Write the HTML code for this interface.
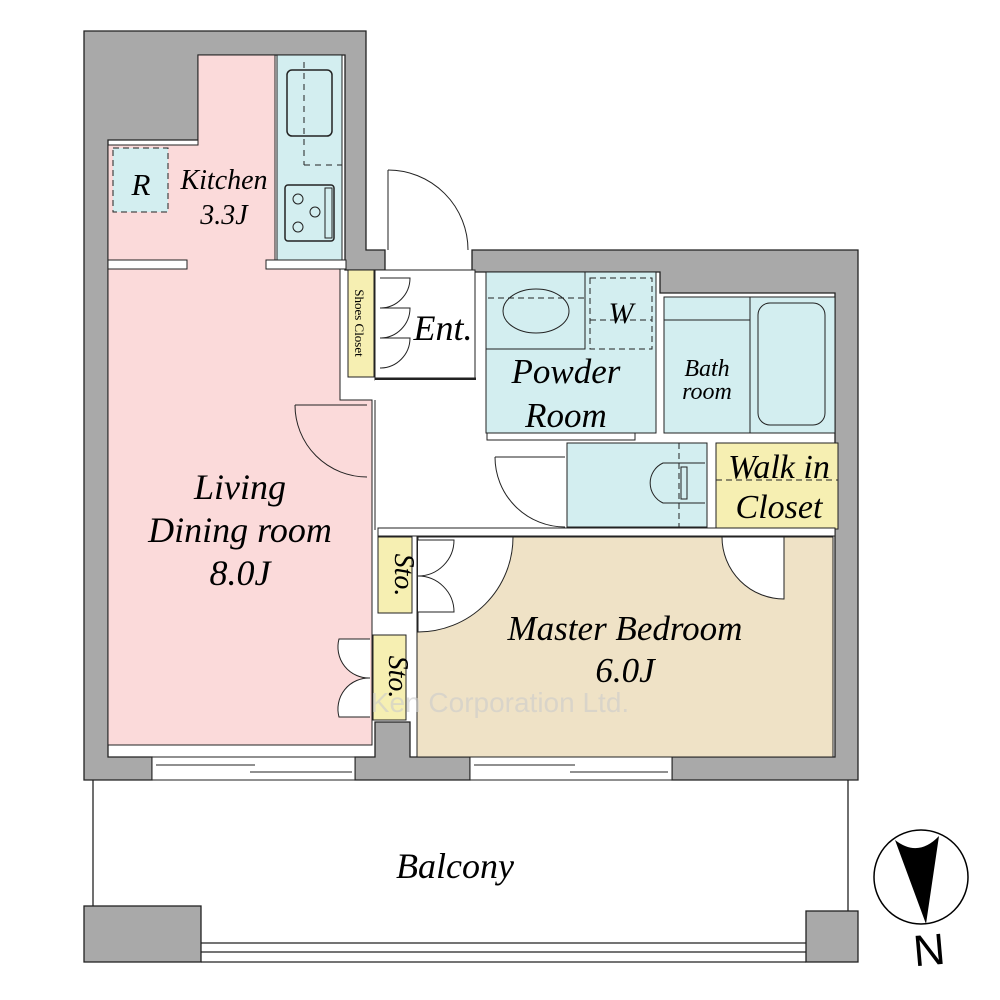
<!DOCTYPE html>
<html><head><meta charset="utf-8"><style>
html,body{margin:0;padding:0;background:#fff;}
svg{display:block;}
text{font-family:"Liberation Serif",serif;font-style:italic;fill:#000;}
</style></head><body>
<svg width="1000" height="1000" viewBox="0 0 1000 1000" xmlns="http://www.w3.org/2000/svg">
<g stroke="#222" stroke-width="1.3">
<path d="M84 31 H366 V250 H385 V270 H345 V55 H198 V140 H108 V757 H152 V780 H84 Z" fill="#a9a9a9"/>
<path d="M472 250 H858 V780 H672 V757 H835 V293 H660 V272 H472 Z" fill="#a9a9a9"/>
<path d="M355 757 H375 V722 H410 V757 H470 V780 H355 Z" fill="#a9a9a9"/>
</g>
<path d="M198 55 H275 V260 H340 V400 H372 V745 H108 V145 H198 Z" fill="#fbdada" stroke="#222" stroke-width="1"/>
<rect x="277" y="55" width="65" height="205" fill="#d3eef0" stroke="#222" stroke-width="1"/>
<rect x="108" y="260" width="79" height="9" fill="#fff" stroke="#222" stroke-width="1"/>
<rect x="266" y="260" width="80" height="9" fill="#fff" stroke="#222" stroke-width="1"/>
<rect x="113" y="148" width="55" height="64" fill="#d3eef0" stroke="#222" stroke-dasharray="6,4"/>
<rect x="287" y="70" width="45" height="66" rx="5" fill="none" stroke="#222" stroke-width="1.5"/>
<line x1="304" y1="62" x2="304" y2="165" stroke="#222" stroke-dasharray="6,5"/>
<line x1="304" y1="165" x2="342" y2="165" stroke="#222" stroke-dasharray="6,5"/>
<rect x="285" y="185" width="49" height="56" rx="3" fill="none" stroke="#222" stroke-width="1.5"/>
<circle cx="298" cy="199" r="5" fill="none" stroke="#222"/><circle cx="315" cy="212" r="5" fill="none" stroke="#222"/><circle cx="298" cy="227" r="5" fill="none" stroke="#222"/>
<rect x="325" y="188" width="7" height="50" fill="none" stroke="#222"/>
<rect x="348" y="270" width="26" height="107" fill="#f6efb2" stroke="#222"/>
<rect x="375" y="270" width="100" height="110" fill="#fff" stroke="#222"/>
<line x1="375" y1="380" x2="476" y2="380" stroke="#222" stroke-width="5"/>
<path d="M388 170 A80 80 0 0 1 468 250" fill="none" stroke="#222"/>
<line x1="388" y1="170" x2="388" y2="250" stroke="#222"/>
<path d="M380 278 h30 a30 30 0 0 1 -30 30 M380 308 h30 a30 30 0 0 1 -30 30 M380 338 h30 a30 30 0 0 1 -30 30" fill="none" stroke="#222"/>
<rect x="375" y="380" width="190" height="148" fill="#fff" stroke="none"/>
<line x1="375" y1="400" x2="375" y2="530" stroke="#222"/>
<path d="M295 405 A72 72 0 0 0 367 477" fill="none" stroke="#222"/>
<line x1="295" y1="405" x2="367" y2="405" stroke="#222"/>
<rect x="486" y="272" width="170" height="161" fill="#d3eef0" stroke="#222"/>
<rect x="486" y="272" width="99" height="77" fill="#d3eef0" stroke="#222"/>
<ellipse cx="536" cy="311" rx="33" ry="22" fill="none" stroke="#222"/>
<line x1="488" y1="298" x2="585" y2="298" stroke="#222" stroke-dasharray="6,4"/>
<rect x="590" y="278" width="62" height="71" fill="none" stroke="#222" stroke-dasharray="6,4"/>
<line x1="590" y1="320" x2="652" y2="320" stroke="#222" stroke-dasharray="6,4"/>
<rect x="487" y="433" width="148" height="7" fill="#fff" stroke="#222"/>
<rect x="664" y="297" width="171" height="136" fill="#d3eef0" stroke="#222"/>
<line x1="750" y1="297" x2="750" y2="433" stroke="#222"/>
<line x1="664" y1="320" x2="750" y2="320" stroke="#222"/>
<rect x="758" y="303" width="67" height="122" rx="12" fill="none" stroke="#222"/>
<rect x="567" y="443" width="140" height="84" fill="#d3eef0" stroke="#222"/>
<line x1="679" y1="443" x2="679" y2="527" stroke="#222" stroke-dasharray="6,4"/>
<path d="M705 463 H663 A22 22 0 0 0 663 503 H705" fill="none" stroke="#222"/>
<rect x="681" y="467" width="6" height="32" fill="none" stroke="#222"/>
<path d="M495 457 A70 70 0 0 0 565 527" fill="none" stroke="#222"/>
<line x1="495" y1="457" x2="565" y2="457" stroke="#222"/>
<rect x="716" y="443" width="122" height="86" fill="#f6efb2" stroke="#222"/>
<line x1="716" y1="480" x2="838" y2="480" stroke="#222" stroke-dasharray="6,4"/>
<rect x="417" y="537" width="416" height="220" fill="#efe2c6" stroke="#222"/>
<rect x="378" y="528" width="457" height="8" fill="#fff" stroke="#222"/>
<path d="M513 537 A95 95 0 0 1 418 632 V537 Z" fill="#fff" stroke="#222"/>
<path d="M418 540 h36 a36 36 0 0 1 -36 36 M418 576 a36 36 0 0 1 36 36 h-36" fill="#fff" stroke="#222"/>
<path d="M722 537 A62 62 0 0 0 784 599 V537 Z" fill="#fff" stroke="#222"/>
<rect x="378" y="537" width="34" height="76" fill="#f6efb2" stroke="#222"/>
<rect x="373" y="635" width="33" height="85" fill="#f6efb2" stroke="#222"/>
<path d="M370 639 h-31 a31 31 0 0 0 31 39 a31 31 0 0 0 -31 39 h31" fill="#fff" stroke="#222"/>
<g fill="#fff" stroke="#222">
<rect x="152" y="757" width="203" height="23"/>
<line x1="156" y1="765" x2="255" y2="765"/><line x1="250" y1="772" x2="352" y2="772"/>
<rect x="470" y="757" width="202" height="23"/>
<line x1="474" y1="765" x2="575" y2="765"/><line x1="570" y1="772" x2="668" y2="772"/>
</g>
<line x1="93" y1="780" x2="93" y2="906" stroke="#222" stroke-width="1.3"/>
<line x1="848" y1="780" x2="848" y2="912" stroke="#222" stroke-width="1.3"/>
<line x1="201" y1="943" x2="806" y2="943" stroke="#222" stroke-width="1.3"/>
<line x1="201" y1="952" x2="806" y2="952" stroke="#222" stroke-width="1.3"/>
<line x1="201" y1="962" x2="806" y2="962" stroke="#222" stroke-width="1.3"/>
<rect x="84" y="906" width="117" height="56" fill="#a9a9a9" stroke="#222" stroke-width="1.3"/>
<rect x="806" y="911" width="52" height="51" fill="#a9a9a9" stroke="#222" stroke-width="1.3"/>
<circle cx="921" cy="877" r="47" fill="#fff" stroke="#000" stroke-width="1.5"/>
<path d="M895 840 Q918 858 939 836 L926 924 Z" fill="#000"/>
<text x="929" y="965" text-anchor="middle" style="font-family:'Liberation Sans',sans-serif;font-style:normal;font-size:44px" transform="rotate(-5 929 948)">N</text>
<text x="141" y="195" font-size="31" text-anchor="middle">R</text>
<text x="224" y="189" font-size="28" text-anchor="middle">Kitchen</text>
<text x="224" y="224" font-size="28" text-anchor="middle">3.3J</text>
<text x="443" y="340" font-size="36" text-anchor="middle">Ent.</text>
<text x="355" y="323" font-size="13" text-anchor="middle" transform="rotate(90 355 323)" style="font-style:normal">Shoes Closet</text>
<text x="621" y="323" font-size="30" text-anchor="middle">W</text>
<text x="566" y="383" font-size="35" text-anchor="middle">Powder</text>
<text x="566" y="427" font-size="35" text-anchor="middle">Room</text>
<text x="707" y="376" font-size="24" text-anchor="middle">Bath</text>
<text x="707" y="399" font-size="24" text-anchor="middle">room</text>
<text x="779" y="478" font-size="34" text-anchor="middle">Walk in</text>
<text x="779" y="518" font-size="34" text-anchor="middle">Closet</text>
<text x="240" y="499" font-size="36" text-anchor="middle">Living</text>
<text x="240" y="542" font-size="36" text-anchor="middle">Dining room</text>
<text x="240" y="585" font-size="36" text-anchor="middle">8.0J</text>
<text x="395" y="575" font-size="28" text-anchor="middle" transform="rotate(90 395 575)">Sto.</text>
<text x="389" y="677" font-size="28" text-anchor="middle" transform="rotate(90 389 677)">Sto.</text>
<text x="625" y="640" font-size="35" text-anchor="middle">Master Bedroom</text>
<text x="625" y="682" font-size="35" text-anchor="middle">6.0J</text>
<text x="500" y="712" font-size="28" text-anchor="middle" style="font-family:'Liberation Sans',sans-serif;font-style:normal;fill:#ccc;opacity:0.6">Ken Corporation Ltd.</text>
<text x="455" y="878" font-size="36" text-anchor="middle">Balcony</text>
</svg>
</body></html>
